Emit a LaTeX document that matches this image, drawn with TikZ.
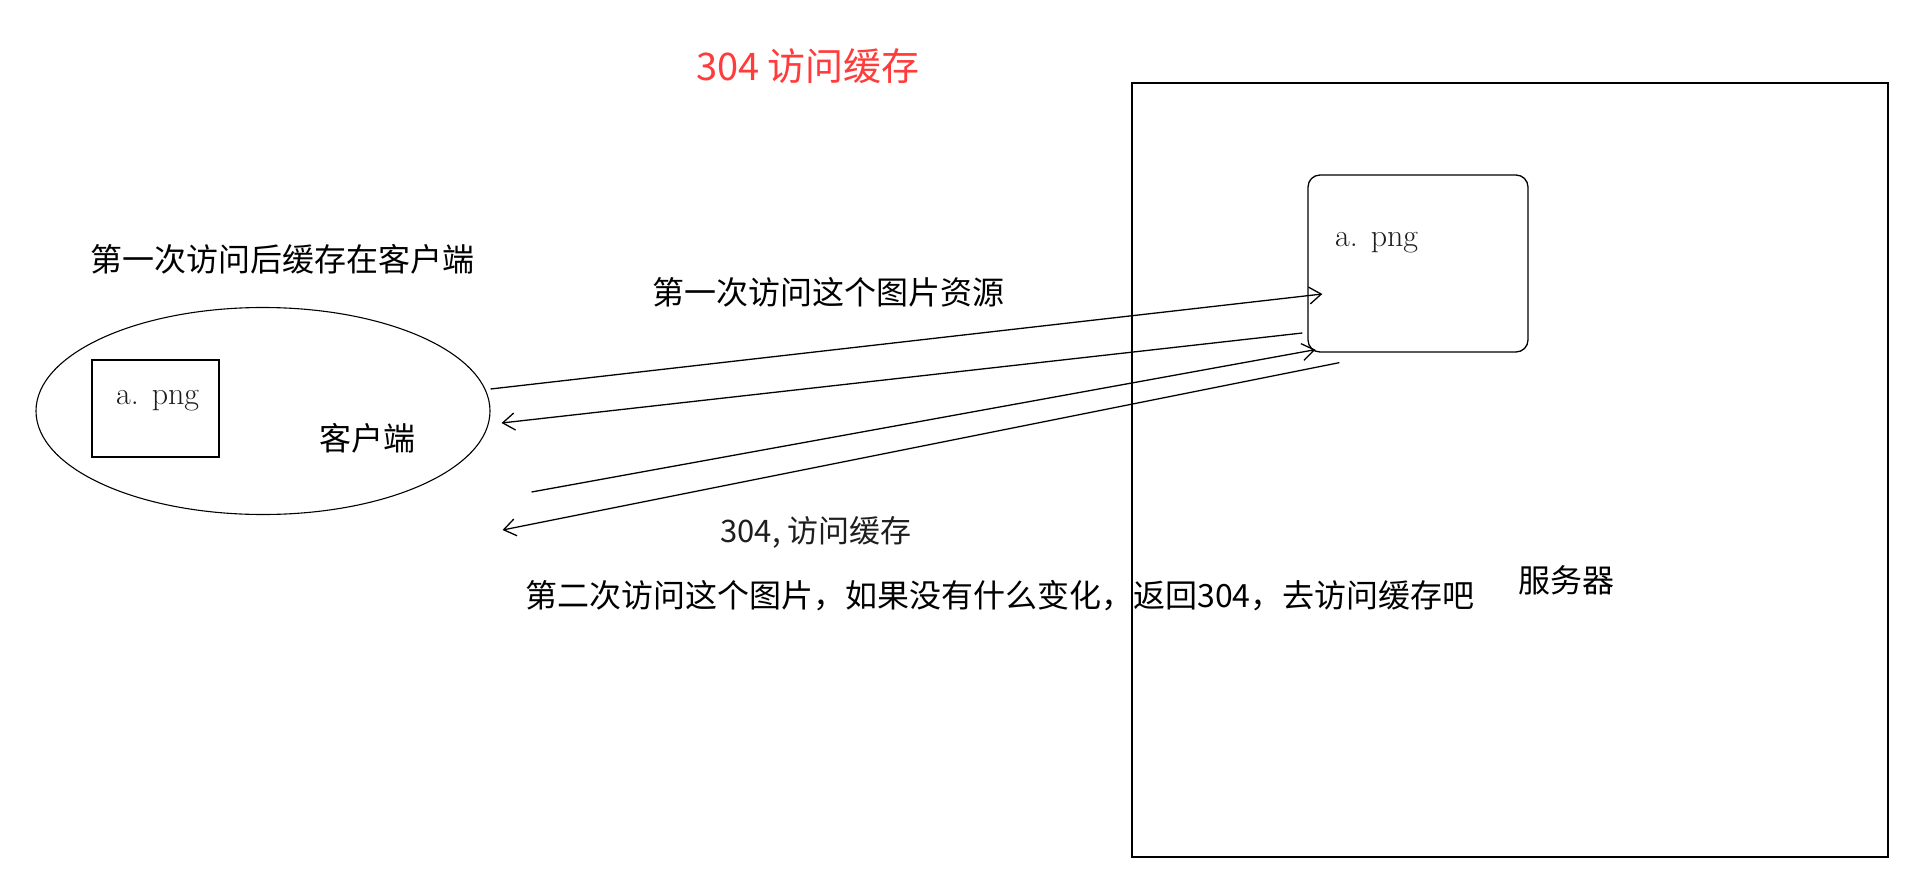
\documentclass[tikz,border=0pt]{standalone}
\usepackage{fontspec}
\newfontfamily\cjk{Noto Sans CJK SC}
\usetikzlibrary{shapes.geometric,arrows.meta,calc}
\definecolor{titlered}{HTML}{FF3B3B}
\definecolor{pngtext}{HTML}{1E1E1E}

\tikzset{
  cjklabel/.style={font=\cjk\fontsize{32}{38}\selectfont, inner sep=0pt},
  pnglabel/.style={font=\fontsize{32}{38}\selectfont, text=pngtext, inner sep=0pt, anchor=west},
  box/.style={draw, line width=1.3pt, inner sep=0pt},
  msg/.style={line width=1.3pt, -{Straight Barb[length=12pt,width=17pt]}},
}

\begin{document}
\begin{tikzpicture}[x=1pt, y=-1pt]
\useasboundingbox (0,0) rectangle (1906,886);

% title
\node[cjklabel, text=titlered, font=\cjk\fontsize{38}{45}\selectfont] (title) at (808,66) {304 访问缓存};

% server side
\node[box, minimum width=756pt, minimum height=774pt] (server) at (1510,470) {};
\node[box, rounded corners=12pt, minimum width=220pt, minimum height=177pt] (img) at (1418,263.5) {};
\node[pnglabel] (imgname) at (1335,243) {a. png};
\node[cjklabel] (servername) at (1566,580) {服务器};

% client side
\node[draw, ellipse, line width=1.1pt, minimum width=454pt, minimum height=207pt, inner sep=0pt] (client) at (263,411) {};
\node[box, line width=1.1pt, minimum width=127pt, minimum height=97pt] (cache) at (155.5,408.5) {};
\node[pnglabel] (cachename) at (116,401) {a. png};
\node[cjklabel] (clientname) at (367,438) {客户端};
\node[cjklabel] (cachenote) at (282,259) {第一次访问后缓存在客户端};

% messages
\draw[msg] ($(client.east)+(0,-22)$) -- ($(img.west)+(15,30.5)$);
\draw[msg] ($(img.west)+(-5,69.5)$) -- ($(client.east)+(11,12)$);
\draw[msg] ($(client.east)+(41,81)$) -- ($(img.south west)+(8,-3)$);
\draw[msg] ($(img.south west)+(32,10)$) -- ($(client.east)+(12,119)$);

\node[cjklabel] (firstreq) at (828,292) {第一次访问这个图片资源};
\node[cjklabel, text=pngtext, font=\cjk\fontsize{31}{37}\selectfont] (reply) at (816,532) {304, 访问缓存};
\node[cjklabel] (secondreq) at (1000,596) {第二次访问这个图片，如果没有什么变化，返回304，去访问缓存吧};
\end{tikzpicture}
\end{document}
